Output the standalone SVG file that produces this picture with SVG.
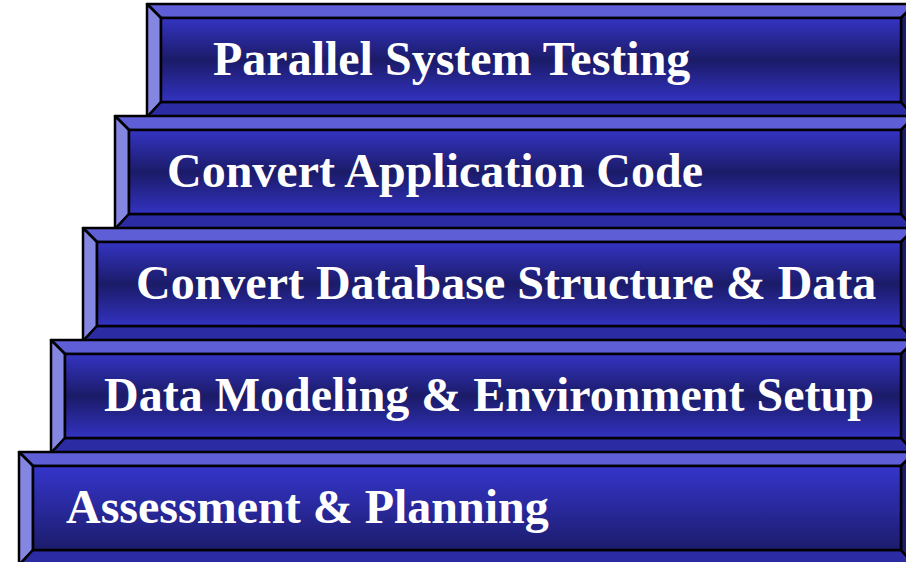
<svg xmlns="http://www.w3.org/2000/svg" width="906" height="562" viewBox="0 0 906 562">
<defs>
<linearGradient id="face" x1="0" y1="0" x2="0" y2="1">
<stop offset="0" stop-color="#3434c4"/>
<stop offset="0.5" stop-color="#1b1b68"/>
<stop offset="1" stop-color="#3232c2"/>
</linearGradient>
<linearGradient id="face5" x1="0" y1="0" x2="0" y2="1">
<stop offset="0" stop-color="#3535cc"/>
<stop offset="1" stop-color="#1c1c6c"/>
</linearGradient>
<style>
.b polygon, .b rect { stroke:#000; stroke-width:2.5; stroke-linejoin:round; }
.top { fill:#5e5ed6; }
.left { fill:#8585e2; }
.bot { fill:#2b2ba4; }
.right { fill:#1c1c70; }
.f { fill:url(#face); }
.f5 { fill:url(#face5); }
text { font-family:"Liberation Serif","Times New Roman",serif; font-weight:bold; font-size:48px; fill:#fff; }
</style>
</defs>
<rect width="906" height="562" fill="#fff"/>
<g id="step5-parallel" class="b">
<polygon class="top" points="147,4 915,4 901,18 161,18"/>
<polygon class="left" points="147,4 161,18 161,102 147,117"/>
<polygon class="bot" points="147,117 161,102 901,102 915,117"/>
<polygon class="right" points="915,4 901,18 901,102 915,117"/>
<rect class="f" x="161" y="18" width="740" height="84"/>
<text x="213" y="75">Parallel System Testing</text>
</g>
<g id="step4-code" class="b">
<polygon class="top" points="115,116 915,116 901,130 129,130"/>
<polygon class="left" points="115,116 129,130 129,214 115,229"/>
<polygon class="bot" points="115,229 129,214 901,214 915,229"/>
<polygon class="right" points="915,116 901,130 901,214 915,229"/>
<rect class="f" x="129" y="130" width="772" height="84"/>
<text x="167" y="187">Convert Application Code</text>
</g>
<g id="step3-database" class="b">
<polygon class="top" points="83,228 915,228 901,242 97,242"/>
<polygon class="left" points="83,228 97,242 97,326 83,341"/>
<polygon class="bot" points="83,341 97,326 901,326 915,341"/>
<polygon class="right" points="915,228 901,242 901,326 915,341"/>
<rect class="f" x="97" y="242" width="804" height="84"/>
<text x="136" y="299">Convert Database Structure &amp; Data</text>
</g>
<g id="step2-modeling" class="b">
<polygon class="top" points="51,340 915,340 901,354 65,354"/>
<polygon class="left" points="51,340 65,354 65,438 51,453"/>
<polygon class="bot" points="51,453 65,438 901,438 915,453"/>
<polygon class="right" points="915,340 901,354 901,438 915,453"/>
<rect class="f" x="65" y="354" width="836" height="84"/>
<text x="104" y="411">Data Modeling &amp; Environment Setup</text>
</g>
<g id="step1-assessment" class="b">
<polygon class="top" points="19,452 915,452 901,466 33,466"/>
<polygon class="left" points="19,452 33,466 33,550 19,565"/>
<polygon class="bot" points="19,565 33,550 901,550 915,565"/>
<polygon class="right" points="915,452 901,466 901,550 915,565"/>
<rect class="f5" x="33" y="466" width="868" height="84"/>
<text x="66" y="523">Assessment &amp; Planning</text>
</g>
<g id="connectors"/>
</svg>
